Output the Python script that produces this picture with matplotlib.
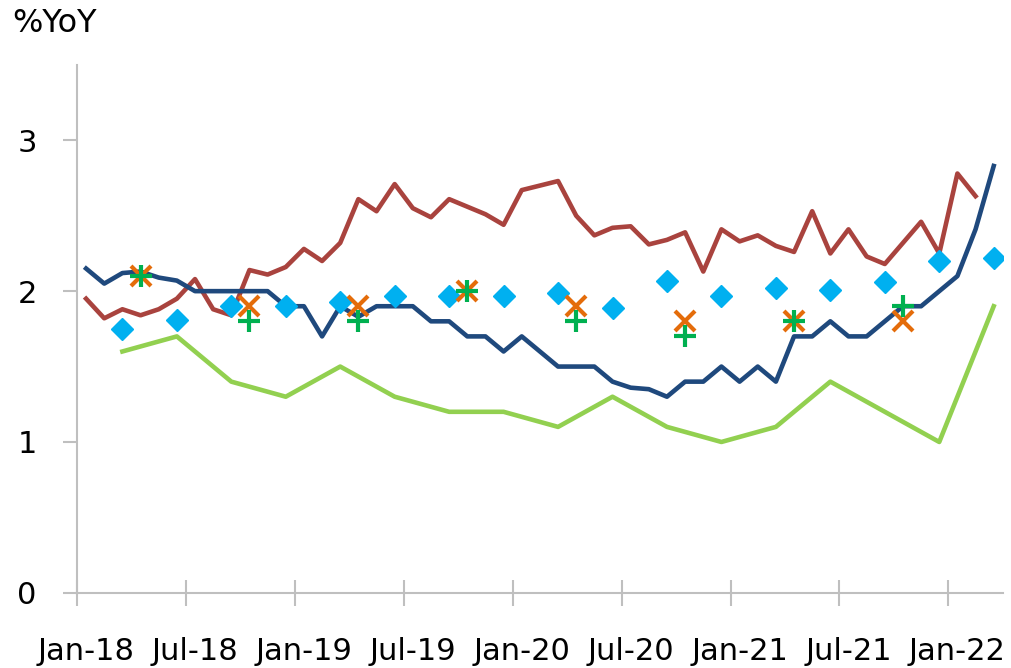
import matplotlib
matplotlib.use("Agg")
import matplotlib.pyplot as plt
import numpy as np

# months Jan-18 .. Mar-22 (category axis)
months = ["Jan-18", "Feb-18", "Mar-18", "Apr-18", "May-18", "Jun-18", "Jul-18", "Aug-18", "Sep-18",
          "Oct-18", "Nov-18", "Dec-18", "Jan-19", "Feb-19", "Mar-19", "Apr-19", "May-19", "Jun-19",
          "Jul-19", "Aug-19", "Sep-19", "Oct-19", "Nov-19", "Dec-19", "Jan-20", "Feb-20", "Mar-20",
          "Apr-20", "May-20", "Jun-20", "Jul-20", "Aug-20", "Sep-20", "Oct-20", "Nov-20", "Dec-20",
          "Jan-21", "Feb-21", "Mar-21", "Apr-21", "May-21", "Jun-21", "Jul-21", "Aug-21", "Sep-21",
          "Oct-21", "Nov-21", "Dec-21", "Jan-22", "Feb-22", "Mar-22"]

navy = [2.15, 2.05, 2.12, 2.13, 2.09, 2.07, 2.0, 2.0, 2.0, 2.0, 2.0, 1.9, 1.9, 1.7, 1.9, 1.83,
        1.9, 1.9, 1.9, 1.8, 1.8, 1.7, 1.7, 1.6, 1.7, 1.6, 1.5, 1.5, 1.5, 1.4, 1.36, 1.35, 1.3,
        1.4, 1.4, 1.5, 1.4, 1.5, 1.4, 1.7, 1.7, 1.8, 1.7, 1.7, 1.8, 1.9, 1.9, 2.0, 2.1, 2.41, 2.83]

red = [1.95, 1.82, 1.88, 1.84, 1.88, 1.95, 2.08, 1.88, 1.84, 2.14, 2.11, 2.16, 2.28, 2.20, 2.32,
       2.61, 2.53, 2.71, 2.55, 2.49, 2.61, 2.56, 2.51, 2.44, 2.67, 2.70, 2.73, 2.50, 2.37, 2.42,
       2.43, 2.31, 2.34, 2.39, 2.13, 2.41, 2.33, 2.37, 2.30, 2.26, 2.53, 2.25, 2.41, 2.23, 2.18,
       2.32, 2.46, 2.25, 2.78, 2.63]

# quarterly series (Mar, Jun, Sep, Dec)
q_idx = list(range(2, 51, 3))
green_line = [1.6, 1.7, 1.4, 1.3, 1.5, 1.3, 1.2, 1.2, 1.1, 1.3, 1.1, 1.0, 1.1, 1.4, 1.2, 1.0, 1.9]
diamonds = [1.75, 1.81, 1.90, 1.90, 1.93, 1.97, 1.97, 1.97, 1.99, 1.89, 2.07, 1.97, 2.02, 2.01,
            2.06, 2.20, 2.22]

# half-yearly points (Apr, Oct)
h_idx = list(range(3, 46, 6))
crosses = [2.1, 1.9, 1.9, 2.0, 1.9, 1.8, 1.8, 1.8]
plusses = [2.1, 1.8, 1.8, 2.0, 1.8, 1.7, 1.8, 1.9]

plt.rcParams['font.family'] = ['DejaVu Sans']
fig = plt.figure(figsize=(10.12, 6.68), dpi=100)
ax = fig.add_axes([0.0761, 0.1126, 0.9148, 0.7902])

x = np.arange(len(months))
ax.plot(x[:len(red)], red, color="#A9433E", lw=3.3, zorder=2)
ax.plot(x, navy, color="#1F497D", lw=3.3, zorder=3)
ax.plot(q_idx, green_line, color="#92D050", lw=3.3, zorder=2)
ax.plot(q_idx, diamonds, ls="none", marker="D", ms=11, color="#00B0F0", zorder=4)
ax.plot(h_idx, crosses, ls="none", marker="x", ms=15, mew=3, color="#E46C0A", zorder=5)
ax.plot(h_idx, plusses, ls="none", marker="+", ms=16, mew=3, color="#00B050", zorder=6)

ax.set_xlim(-0.5, len(months) - 0.5)
ax.set_ylim(0, 3.5)

gray = "#BFBFBF"
for s in ["top", "right"]:
    ax.spines[s].set_visible(False)
for s in ["left", "bottom"]:
    ax.spines[s].set_color(gray)
    ax.spines[s].set_linewidth(1.5)

lab_pos = list(range(0, len(months), 6))
ax.set_xticks(lab_pos, [months[i] for i in lab_pos])
ax.set_xticks(np.arange(-0.5, len(months), 6), minor=True)
ax.tick_params(axis="x", which="major", length=0, pad=32, labelsize=22)
ax.tick_params(axis="x", which="minor", direction="inout", length=19, width=1.5, color=gray)

ax.set_yticks([0, 1, 2, 3])
ax.tick_params(axis="y", direction="out", length=10, width=1.5, color=gray, pad=19, labelsize=22)

fig.text(0.012, 0.952, "%YoY", fontsize=23, ha="left", va="baseline")

plt.savefig("out.png", dpi=100)
